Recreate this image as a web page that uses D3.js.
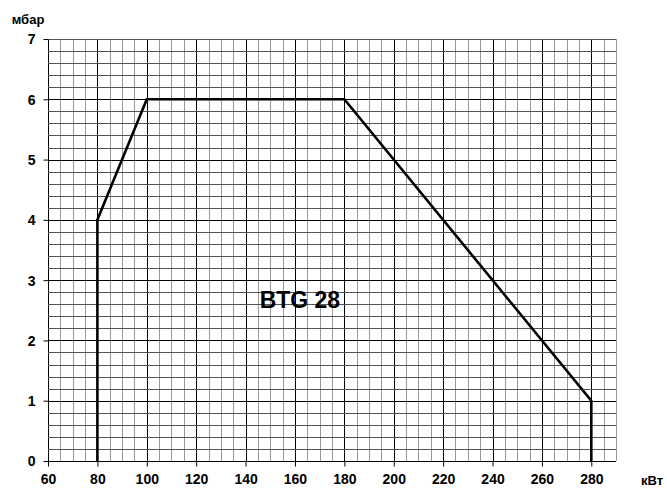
<!DOCTYPE html>
<html><head><meta charset="utf-8">
<script src="https://cdn.jsdelivr.net/npm/d3@7"></script>
<style>body{margin:0;background:#fff}svg{display:block}text{font-family:"Liberation Sans",Arial,sans-serif;font-weight:bold;fill:#000}</style>
</head><body>
<script>
const xTicks = [60,80,100,120,140,160,180,200,220,240,260,280];
const yTicks = [0,1,2,3,4,5,6,7];
const curveX = [80,80,100,180,280,280];
const curveY = [0,4,6,6,1,0];
const xUnit = "кВт", yUnit = "мбар", label = "BTG 28";

const W=667,H=489;
const svg=d3.select("body").append("svg").attr("width",W).attr("height",H);
const x=d3.scaleLinear().domain([60,290]).range([48,616]);
const y=d3.scaleLinear().domain([0,7]).range([461,39]);
const g=svg.append("g");
const xs=d3.range(60,290.01,5), ys=d3.range(0,7.001,0.2);
g.selectAll(".vx").data(xs).join("line")
 .attr("x1",d=>Math.round(x(d))+0.5).attr("x2",d=>Math.round(x(d))+0.5)
 .attr("y1",y(7)).attr("y2",y(0))
 .attr("stroke",d=>(d-60)%20===0&&d<290?"#000":"#999").attr("stroke-width",1);
g.selectAll(".hy").data(ys).join("line")
 .attr("y1",d=>Math.round(y(d))+0.5).attr("y2",d=>Math.round(y(d))+0.5)
 .attr("x1",x(60)).attr("x2",x(290))
 .attr("stroke",d=>Math.abs(d-Math.round(d))<1e-6&&d<7?"#000":"#555").attr("stroke-width",1);
const xa=svg.append("g").attr("transform",`translate(0,${Math.round(y(0))+0.5})`)
 .call(d3.axisBottom(x).tickValues(xTicks).tickSize(5).tickPadding(8).tickFormat(d3.format("d")));
const ya=svg.append("g").attr("transform",`translate(${Math.round(x(60))+0.5},0)`)
 .call(d3.axisLeft(y).tickValues(yTicks).tickSize(5).tickPadding(8).tickFormat(d3.format("d")));
[xa,ya].forEach(a=>{a.select(".domain").remove();a.selectAll("line").attr("stroke","#000");
 a.selectAll("text").style("font-size","14px").style("font-weight","bold").attr("fill","#000").style("font-family","'Liberation Sans',Arial,sans-serif");});
ya.selectAll("text").attr("dy","0.35em");
const pts=curveX.map((v,i)=>[v,curveY[i]]);
svg.append("path").datum(pts)
 .attr("d",d3.line().x(d=>x(d[0])).y(d=>y(d[1])))
 .attr("fill","none").attr("stroke","#000").attr("stroke-width",2.6).attr("stroke-linejoin","miter");
svg.append("text").attr("x",x(162)).attr("y",y(2.67)).attr("text-anchor","middle").attr("dy","0.35em")
 .style("font-size","23px").text(label);
svg.append("text").attr("x",652).attr("y",485).attr("text-anchor","middle").style("font-size","13px").text(xUnit);
svg.append("text").attr("x",28).attr("y",24).attr("text-anchor","middle").style("font-size","13px").text(yUnit);
</script>
</body></html>
